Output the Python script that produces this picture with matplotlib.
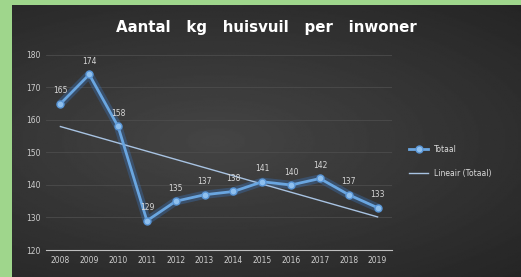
import numpy as np
import matplotlib
matplotlib.use("Agg")
from matplotlib import pyplot as plt

# data
jaren = [2008, 2009, 2010, 2011, 2012, 2013, 2014, 2015, 2016, 2017, 2018, 2019]
totaal = [165, 174, 158, 129, 135, 137, 138, 141, 140, 142, 137, 133]
y_ticks = [120, 130, 140, 150, 160, 170, 180]

fig = plt.figure(figsize=(5.21, 2.77), dpi=100)
fig.patch.set_facecolor("#9fd68c")

# dark background with a soft radial gradient
bg = fig.add_axes([12 / 521, 0, 1 - 12 / 521, 1 - 5 / 277])
yy, xx = np.mgrid[-1:1:200j, -1:1:300j]
r = np.sqrt(((xx + 0.2) * 0.8) ** 2 + yy ** 2)
bg.imshow(0.27 - 0.09 * r, cmap="gray", vmin=0, vmax=1, aspect="auto",
          extent=[0, 1, 0, 1])
bg.set_axis_off()

ax = fig.add_axes([46 / 521, 27 / 277, (392 - 46) / 521, (250 - 55) / 277])
ax.patch.set_alpha(0)

x = np.array(jaren)
y = np.array(totaal)

# glow around the line
ax.plot(x, y, color="#3b78c2", lw=6, alpha=0.35, solid_capstyle="round", zorder=2)
ax.plot(x, y, color="#6aa6e0", lw=2, marker="o", ms=5,
        mfc="#8fc0ee", mec="#5a96d6", zorder=3, label="Totaal")

# linear trend line
a, b = np.polyfit(x, y, 1)
ax.plot(x, a * x + b, color="#a8c3e2", lw=1, zorder=2, label="Lineair (Totaal)")

for xi, yi in zip(x, y):
    ax.annotate(str(yi), (xi, yi), xytext=(0, 6), textcoords="offset points",
                ha="center", va="bottom", fontsize=5.5, color="#d8d8d8")

ax.set_xlim(2007.5, 2019.5)
ax.set_ylim(120, 180)
ax.set_xticks(jaren)
ax.set_yticks(y_ticks)
ax.tick_params(colors="#cfcfcf", labelsize=5.5, length=0, pad=4)
ax.grid(axis="y", color="#4c4c4c", lw=0.6)
for s in ["top", "right", "left"]:
    ax.spines[s].set_visible(False)
ax.spines["bottom"].set_color("#bfbfbf")

ax.legend(loc="center left", bbox_to_anchor=(1.03, 0.455), frameon=False,
          fontsize=5.5, labelcolor="#dcdcdc", handlelength=2.5, labelspacing=1.9)

fig.text(266 / 521, 1 - 27 / 277, "Aantal   kg   huisvuil   per   inwoner",
         ha="center", va="center", color="white", fontsize=10.8, fontweight="bold")

fig.savefig("out.png", dpi=100, facecolor=fig.get_facecolor())
